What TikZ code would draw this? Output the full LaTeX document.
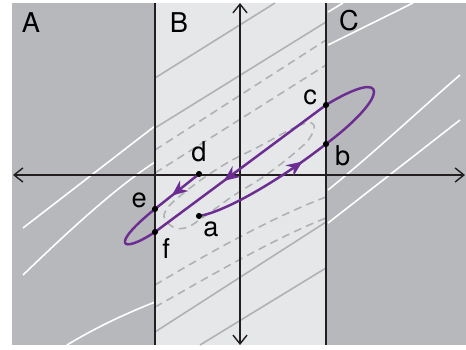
\documentclass[tikz,border=0pt]{standalone}
\usepackage{fontspec}
\setmainfont{TeX Gyre Heros}
\usetikzlibrary{arrows.meta,decorations.markings}
\usepackage{tkz-euclide}
\definecolor{DarkClr}{RGB}{183,184,187}
\definecolor{LightClr}{RGB}{230,231,232}
\definecolor{GridClr}{RGB}{176,177,180}
\definecolor{PathClr}{RGB}{107,45,145}
\definecolor{LineClr}{RGB}{35,31,32}

\tikzset{
  wline/.style={white,line width=0.9pt},
  gline/.style={GridClr,line width=0.9pt},
  gdash/.style={GridClr,line width=0.9pt,dash pattern=on 4.5pt off 3pt},
  axis/.style={LineClr,line width=0.8pt,{Straight Barb[length=5pt,width=8pt]}-{Straight Barb[length=5pt,width=8pt]}},
  border/.style={LineClr,line width=1.4pt},
  traj/.style={PathClr,line width=1.4pt},
  midarrow/.style={postaction={decorate},decoration={markings,
    mark=at position #1 with {\arrow{Stealth[length=9pt,width=7.5pt]}}}},
  ptlabel/.style={font=\fontsize{15.5}{15.5}\selectfont,inner sep=0pt},
}

\begin{document}
\begin{tikzpicture}[x=0.02cm,y=-0.02cm]
\useasboundingbox (0,0) rectangle (466,350);

\tkzDefPoints{199/216/a,326/144/b,326/105/c,199/174/d,155/209/e,155/232/f}
\tkzDefPoints{13/175/W,465/175/E,240/3/N,240/345/S}
\tkzDefPoints{155/3/L1,155/345/L2,326/3/R1,326/345/R2}

% regions
\fill[DarkClr] (12,3) rectangle (466,345);
\fill[LightClr] (L1) rectangle (R2);

% level lines in A and C
\draw[wline] (23,228) -- (155,126);
\draw[wline] (23,275) .. controls (80,220) and (120,185) .. (155,162);
\draw[wline] (67,345) .. controls (100,325) and (130,312) .. (155,302);
\draw[wline] (328,223) -- (460,120);
\draw[wline] (328,190) .. controls (375,152) and (425,105) .. (460,75);
\draw[wline] (328,45) -- (413,3);
\draw[wline] (328,12) -- (343,3);

% level lines in B
\draw[gline] (155,78) -- (275,3);
\draw[gline] (155,128) -- (326,22);
\draw[gdash] (155,150) -- (326,40);
\draw[gdash] (155,173) -- (326,65);
\draw[gdash] plot[smooth cycle,tension=.7] coordinates {(313,124) (298,126) (260,146) (222,166)
  (185,192) (165,212) (170,225) (185,228) (205,216) (233,196) (266,175) (298,150) (311,136)};
\draw[gdash] (155,285) .. controls (200,258) and (270,218) .. (326,197);
\draw[gdash] (155,307) .. controls (200,282) and (270,240) .. (326,218);
\draw[gline] (155,332) -- (326,222);
\draw[gline] (200,345) -- (326,268);

% borders and axes
\draw[border] (L1) -- (L2);
\draw[border] (R1) -- (R2);
\draw[axis] (W) -- (E);
\draw[axis] (S) -- (N);

% trajectories
\draw[traj,midarrow=0.8] (a) .. controls (225,212) and (280,180) .. (b);
\draw[traj] (b) .. controls (390,96) and (390,66) .. (c);
\draw[traj,midarrow=0.6] (c) -- (f);
\draw[traj] (f) .. controls (120,255) and (110,245) .. (e);
\draw[traj,midarrow=0.62] (d) -- (e);

\tkzDrawPoints[size=3,color=black,fill=black](a,b,c,d,e,f)

\node[ptlabel] (lblA) at (31,23) {A};
\node[ptlabel] (lblB) at (179,23) {B};
\node[ptlabel] (lblC) at (349,21) {C};

\tkzLabelPoint[ptlabel,anchor=north west,xshift=2.3pt,yshift=-3.4pt](a){a}
\tkzLabelPoint[ptlabel,anchor=north west,xshift=5pt,yshift=-0.6pt](b){b}
\tkzLabelPoint[ptlabel,anchor=south east,xshift=-5pt](c){c}
\tkzLabelPoint[ptlabel,anchor=south,yshift=6.8pt](d){d}
\tkzLabelPoint[ptlabel,anchor=south east,xshift=-4.5pt,yshift=0.5pt](e){e}
\tkzLabelPoint[ptlabel,anchor=north west,xshift=4pt,yshift=-3.4pt](f){f}

\end{tikzpicture}
\end{document}
